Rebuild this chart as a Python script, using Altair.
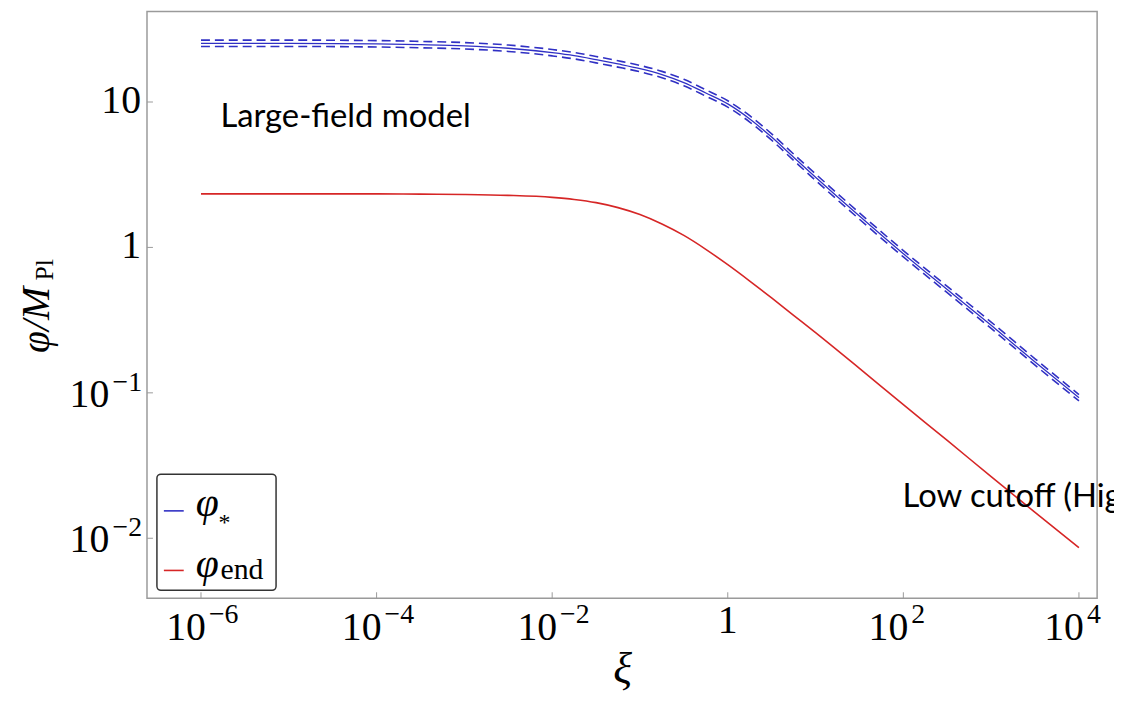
import altair as alt
import pandas as pd

# ---- data ----
xi = [1e-6, 1e-5, 1e-4, 3.16e-4, 1e-3, 3.16e-3, 1e-2, 0.0178, 0.0316, 0.0562,
      0.1, 0.178, 0.316, 0.562, 1, 1.78, 3.16, 5.62, 10, 31.6, 100, 316,
      1000, 3162, 10000]
phi_star = [25.33, 25.33, 25.13, 24.82, 24.36, 23.42, 21.83, 20.82, 19.55, 18.27,
            16.97, 15.44, 13.61, 11.54, 9.70, 7.65, 5.74, 4.17, 3.04, 1.643,
            0.904, 0.513, 0.2915, 0.1630, 0.0925]
phi_star_hi = [26.65, 26.65, 26.44, 26.11, 25.63, 24.64, 22.97, 21.90, 20.57, 19.22,
               17.85, 16.24, 14.32, 12.14, 10.20, 8.05, 6.04, 4.39, 3.20, 1.728,
               0.951, 0.540, 0.3067, 0.1715, 0.0973]
phi_star_lo = [24.09, 24.09, 23.90, 23.60, 23.17, 22.27, 20.76, 19.80, 18.59, 17.37,
               16.14, 14.68, 12.94, 10.97, 9.22, 7.28, 5.46, 3.97, 2.89, 1.562,
               0.860, 0.488, 0.2772, 0.1550, 0.0880]
phi_end = [2.333, 2.333, 2.333, 2.326, 2.312, 2.279, 2.208, 2.137, 2.032, 1.878,
           1.683, 1.449, 1.209, 0.9706, 0.7606, 0.5869, 0.4493, 0.3412, 0.2592, 0.1472,
           0.0829, 0.04708, 0.02652, 0.01506, 0.00862]

x_tick_values = [1e-6, 1e-4, 1e-2, 1, 1e2, 1e4]
x_tick_base = ["10", "10", "10", "1", "10", "10"]
x_tick_exp = ["\u22126", "\u22124", "\u22122", "", "2", "4"]

y_tick_values = [0.01, 0.1, 1, 10]
y_tick_base = ["10", "10", "1", "10"]
y_tick_exp = ["\u22122", "\u22121", "", ""]

# ---- layout ----
W, H = 957, 591
SERIF = "Liberation Serif"
BLUE = "#3030c4"
RED = "#d62626"
GRAY = "#9a9a9a"

rows = []
for name, vals in [("star", phi_star), ("star_hi", phi_star_hi),
                   ("star_lo", phi_star_lo), ("end", phi_end)]:
    for x, v in zip(xi, vals):
        rows.append({"xi": x, "phi": v, "series": name})
df = pd.DataFrame(rows)

xs = alt.Scale(type="log", domain=[10 ** -6.615, 10 ** 4.207], nice=False)
ys = alt.Scale(type="log", domain=[10 ** -2.4125, 10 ** 1.6225], nice=False)
X = alt.X("xi:Q", scale=xs, axis=None)
Y = alt.Y("phi:Q", scale=ys, axis=None)

base = alt.Chart(df)


def line(series, color, width, dash=None):
    kw = dict(color=color, strokeWidth=width, interpolate="monotone", clip=True)
    if dash:
        kw["strokeDash"] = dash
    return base.transform_filter(alt.datum.series == series).mark_line(**kw).encode(x=X, y=Y)


lines = [
    line("star", BLUE, 1.3),
    line("star_hi", BLUE, 1.6, [9, 5]),
    line("star_lo", BLUE, 1.6, [9, 5]),
    line("end", RED, 1.6),
]

xt = pd.DataFrame({"xi": x_tick_values, "base": x_tick_base, "exp": x_tick_exp})
yt = pd.DataFrame({"phi": y_tick_values, "base": y_tick_base, "exp": y_tick_exp})

xtick_marks = alt.Chart(xt).mark_rule(color=GRAY, strokeWidth=1).encode(
    x=X, y=alt.value(H), y2=alt.value(H - 6))
ytick_marks = alt.Chart(yt).mark_rule(color=GRAY, strokeWidth=1).encode(
    y=Y, x=alt.value(0), x2=alt.value(6))

xl_plain = alt.Chart(xt).transform_filter(alt.datum.exp == "").mark_text(
    font=SERIF, fontSize=40, align="center", baseline="alphabetic", color="black"
).encode(x=X, y=alt.value(626), text="base:N")
xl_base = alt.Chart(xt).transform_filter(alt.datum.exp != "").mark_text(
    font=SERIF, fontSize=40, align="right", baseline="alphabetic", dx=5, color="black"
).encode(x=X, y=alt.value(633), text="base:N")
xl_exp = alt.Chart(xt).transform_filter(alt.datum.exp != "").mark_text(
    font=SERIF, fontSize=28, align="left", baseline="alphabetic", dx=8, color="black"
).encode(x=X, y=alt.value(616), text="exp:N")

yl_plain = alt.Chart(yt).transform_filter(alt.datum.exp == "").mark_text(
    font=SERIF, fontSize=40, align="right", baseline="alphabetic", dy=11, color="black"
).encode(y=Y, x=alt.value(-6), text="base:N")
yl_base = alt.Chart(yt).transform_filter(alt.datum.exp != "").mark_text(
    font=SERIF, fontSize=40, align="right", baseline="alphabetic", dy=14, color="black"
).encode(y=Y, x=alt.value(-38), text="base:N")
yl_exp = alt.Chart(yt).transform_filter(alt.datum.exp != "").mark_text(
    font=SERIF, fontSize=28, align="right", baseline="alphabetic", dy=-2, color="black"
).encode(y=Y, x=alt.value(-5), text="exp:N")


def label(txt, x, y, size, font=SERIF, style="normal", align="left", angle=0):
    kw = dict(font=font, fontSize=size, fontStyle=style, align=align,
              baseline="alphabetic", color="black", text=txt)
    if angle:
        kw["angle"] = angle
    return alt.Chart(pd.DataFrame({"a": [0]})).mark_text(**kw).encode(
        x=alt.value(x), y=alt.value(y))


# axis titles
x_title = label("\u03be", 479, 676, 44, style="italic", align="center")
y_title_main = label("\u03c6/M", -99, 344, 40, style="italic", angle=270)
y_title_sub = label("Pl", -95, 271, 26, angle=270)

# annotations
ann1 = label("Large-field model", 74, 116, 33, font="Lato")
ann2 = label("Low cutoff (Higgs inflation)", 761, 499, 33, font="Lato")

# legend
legend_box = alt.Chart(pd.DataFrame({"a": [0]})).mark_rect(
    fill="white", stroke="#333333", strokeWidth=1.5, cornerRadius=4
).encode(x=alt.value(10), x2=alt.value(130), y=alt.value(466), y2=alt.value(583))
leg_blue = alt.Chart(pd.DataFrame({"a": [0]})).mark_rule(color=BLUE, strokeWidth=1.6).encode(
    x=alt.value(17), x2=alt.value(37), y=alt.value(503))
leg_red = alt.Chart(pd.DataFrame({"a": [0]})).mark_rule(color=RED, strokeWidth=1.6).encode(
    x=alt.value(17), x2=alt.value(37), y=alt.value(563))
leg_t1 = label("\u03c6", 49, 508, 42, style="italic")
leg_t1s = label("*", 72, 522, 24)
leg_t2 = label("\u03c6", 49, 570, 42, style="italic")
leg_t2s = label("end", 74, 572, 30)

chart = alt.layer(
    *lines, xtick_marks, ytick_marks,
    xl_plain, xl_base, xl_exp, yl_plain, yl_base, yl_exp,
    x_title, y_title_main, y_title_sub, ann1, ann2,
    legend_box, leg_blue, leg_red, leg_t1, leg_t1s, leg_t2, leg_t2s,
).properties(
    width=W, height=H,
    padding={"left": 140, "top": 1, "right": 17, "bottom": 101},
    autosize=alt.AutoSizeParams(type="none"),
    background="white",
).configure_view(stroke=GRAY, strokeWidth=1.5)

chart.save("out.html", embed_options={"renderer": "svg", "actions": False})
